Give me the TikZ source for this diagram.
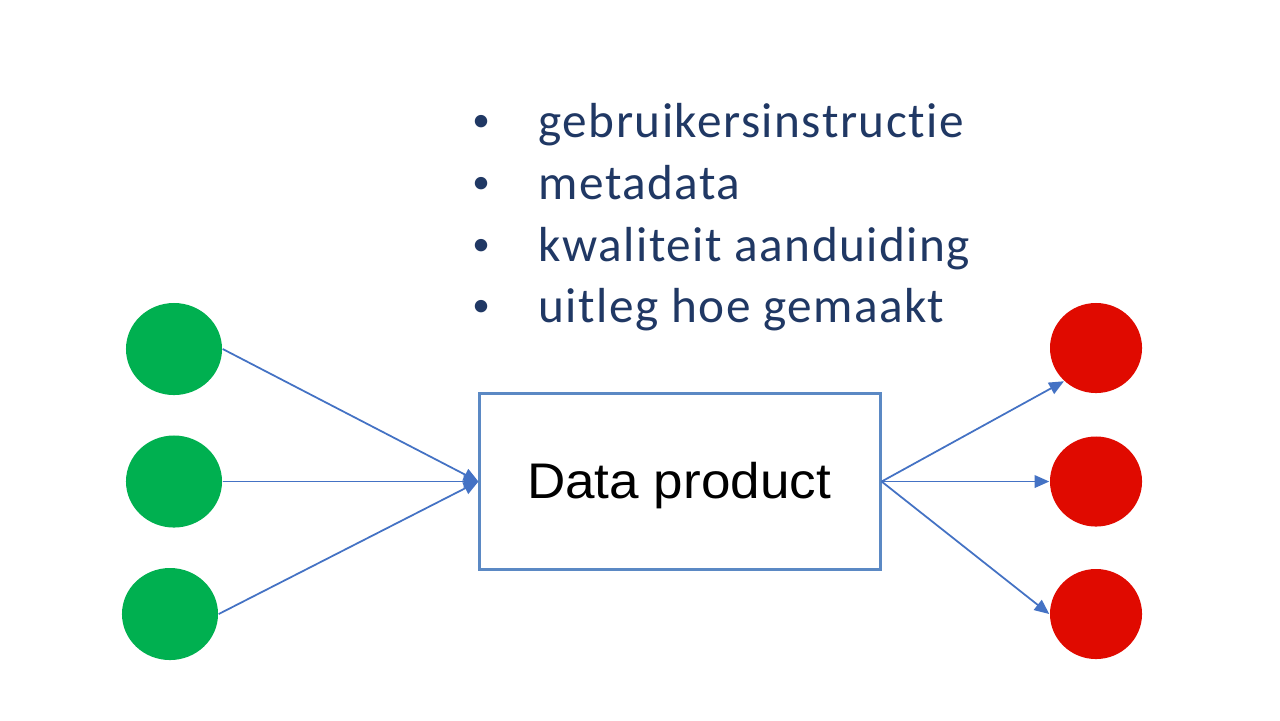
\documentclass[tikz,border=0pt]{standalone}
\usepackage{fontspec}
\usetikzlibrary{shapes.geometric,arrows.meta}
\newfontfamily\listfont[LetterSpace=3,Ligatures={NoCommon}]{Carlito}
\newfontfamily\bulletfont{Carlito}
\newfontfamily\boxfont[FakeStretch=1.06]{Liberation Sans}
\definecolor{navy}{HTML}{203864}
\definecolor{dotgreen}{HTML}{00B050}
\definecolor{dotred}{HTML}{E00A00}
\definecolor{boxblue}{HTML}{5B89C4}
\definecolor{arrowblue}{HTML}{4472C4}
\tikzset{
  greendot/.style={ellipse, fill=dotgreen, draw=none, minimum width=0.96cm, minimum height=0.92cm, inner sep=0pt},
  reddot/.style={ellipse, fill=dotred, draw=none, minimum width=0.92cm, minimum height=0.90cm, inner sep=0pt},
  prodbox/.style={rectangle, draw=boxblue, line width=0.85pt, minimum width=4.0cm, minimum height=1.75cm, inner sep=0pt},
  conn/.style={draw=arrowblue, line width=0.5pt, -{Triangle[length=4.2pt, width=3.6pt]}},
  listtext/.style={anchor=base west, inner sep=0pt, text=navy, font=\listfont\fontsize{14.0pt}{16pt}\selectfont},
  listbullet/.style={anchor=base, inner sep=0pt, text=navy, font=\bulletfont\fontsize{10pt}{12pt}\selectfont}
}
\begin{document}
\begin{tikzpicture}[x=0.01cm, y=-0.01cm]
\path[use as bounding box, fill=white] (0,0) rectangle (1280,720);
% list
\node[listbullet] (b1) at (481,131) {•};
\node[listbullet] (b2) at (481,193) {•};
\node[listbullet] (b3) at (481,255) {•};
\node[listbullet] (b4) at (481,316) {•};
\node[listtext] (t1) at (538,137) {gebruikersinstructie};
\node[listtext] (t2) at (538,199) {metadata};
\node[listtext] (t3) at (538,261) {kwaliteit aanduiding};
\node[listtext] (t4) at (538,322) {uitleg hoe gemaakt};
% box
\node[prodbox] (box) at (680,481.5) {};
\node[anchor=base, inner sep=0pt, font=\boxfont\fontsize{14.23pt}{17pt}\selectfont] (lbl) at (679,498) {Data product};
% dots
\node[greendot] (g1) at (174,349) {};
\node[greendot] (g2) at (174,481.5) {};
\node[greendot] (g3) at (170,614) {};
\node[reddot] (r1) at (1096,348) {};
\node[reddot] (r2) at (1096,481.5) {};
\node[reddot] (r3) at (1096,614) {};
% connectors
\draw[conn] (g1.east) -- (box.west);
\draw[conn] (g2.east) -- (box.west);
\draw[conn] (g3.east) -- (box.west);
\draw[conn] (box.east) -- (r1.226);
\draw[conn] (box.east) -- (r2.west);
\draw[conn] (box.east) -- (r3.west);
\end{tikzpicture}
\end{document}
